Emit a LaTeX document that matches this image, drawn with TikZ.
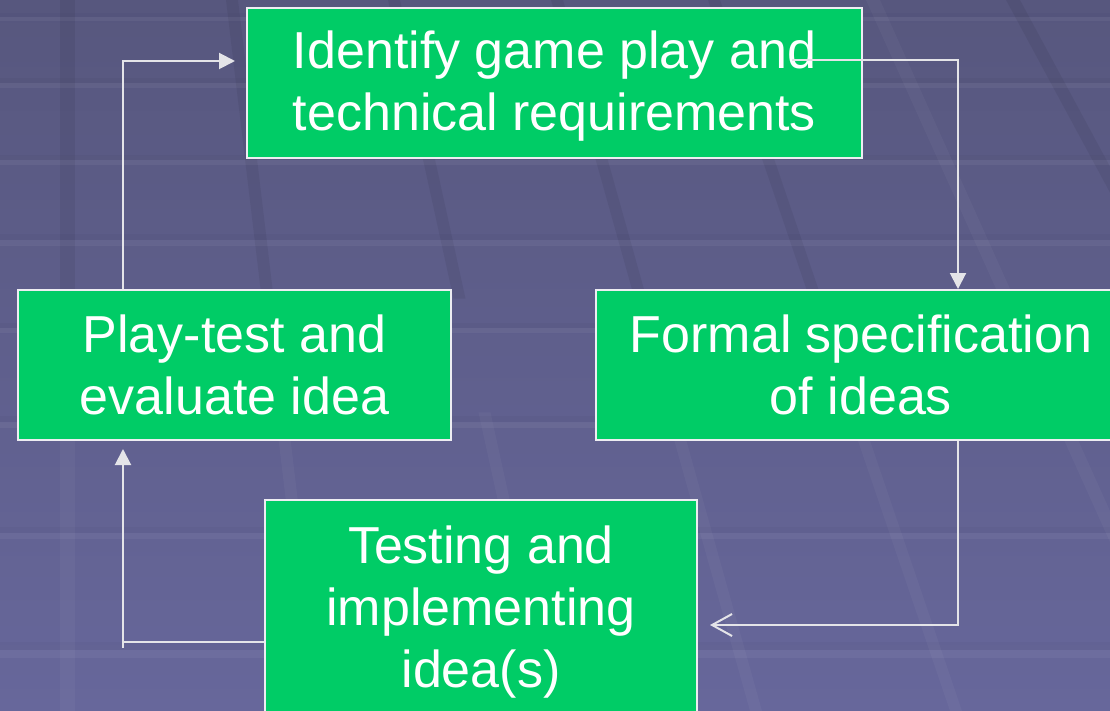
\documentclass[tikz,border=0pt]{standalone}
\usepackage{fontspec}
\setmainfont{Liberation Sans}
\usetikzlibrary{arrows.meta,calc}
\definecolor{bgtop}{HTML}{57577E}
\definecolor{bgbot}{HTML}{67679B}
\definecolor{boxgreen}{HTML}{00CC66}
\definecolor{boxedge}{HTML}{EDEDF2}
\definecolor{linegray}{HTML}{E4E4E8}
\begin{document}
\begin{tikzpicture}[x=1pt,y=-1pt,
  stagebox/.style={rectangle, draw=boxedge, line width=2pt, fill=boxgreen, inner sep=0pt},
  stagetext/.style={text=white, align=center, inner sep=0pt,
    font=\fontsize{52}{62}\selectfont},
  flow/.style={draw=linegray, line width=2pt},
  solidtip/.style={-{Triangle[length=16pt,width=16pt]}},
  opentip/.style={-{Straight Barb[length=20pt,width=22pt,line width=2pt]}}]

% backdrop
\useasboundingbox (0,0) rectangle (1110,711);
\fill[top color=bgtop, bottom color=bgbot] (0,0) rectangle (1110,711);

% slanted perspective bands: darker near the top, lighter near the bottom
\foreach \ta/\tb/\ba/\bb in {60/75/60/75, 226/238/311/323, 388/400/544/556,
                             551/563/750/762, 708/720/950/962, 1006/1020/1390/1404} {
  \fill[black, opacity=0.06]
    (\ta,0) -- (\tb,0) -- ($(\tb,0)!0.42!(\bb,711)$) -- ($(\ta,0)!0.42!(\ba,711)$) -- cycle;
  \fill[white, opacity=0.035]
    ($(\ta,0)!0.58!(\ba,711)$) -- ($(\tb,0)!0.58!(\bb,711)$) -- (\bb,711) -- (\ba,711) -- cycle;
}
\fill[white, opacity=0.035] (866,0) -- (880,0) -- (1200,711) -- (1186,711) -- cycle;

% horizontal bands
\foreach \hy/\hw in {17/4, 83/5, 160/5, 240/6, 328/5, 422/6, 533/6, 650/8} {
  \fill[black, opacity=0.025] (0,\hy-\hw) rectangle (1110,\hy);
  \fill[white, opacity=0.05] (0,\hy) rectangle (1110,\hy+\hw);
}

% stages
\node[stagebox, minimum width=615pt, minimum height=150pt] (ident) at (554.5,83) {};
\node[stagetext] (identtxt) at (554.5,86) {Identify game play and\\technical requirements};

\node[stagebox, minimum width=530pt, minimum height=150pt] (spec) at (861,365) {};
\node[stagetext] (spectxt) at (861,365) {Formal specification\\of ideas};

\node[stagebox, minimum width=432pt, minimum height=240pt] (impl) at (481,620) {};
\node[stagetext] (impltxt) at (481,612.5) {Testing and\\implementing\\idea(s)};

\node[stagebox, minimum width=433pt, minimum height=150pt] (play) at (234.5,365) {};
\node[stagetext] (playtxt) at (234.5,365) {Play-test and\\evaluate idea};

% routing guides
\coordinate (start) at (792,60);
\coordinate (xright) at (958,0);
\coordinate (xleft) at (123,0);
\coordinate (yjoin) at (0,625);
\coordinate (ybot) at (0,642);
\coordinate (ytop) at (0,61);

% cycle connectors
\draw[flow, solidtip] (start) -| (spec.north -| xright);
\draw[flow, opentip] (spec.south -| xright) |- ([xshift=12pt]impl.east |- yjoin);
\draw[flow, solidtip, shorten >=8pt] (impl.west |- ybot) -| (play.south -| xleft);
\draw[flow] (xleft |- ybot) -- ++(0,6);
\draw[flow, solidtip] (play.north -| xleft) |- ([xshift=-11pt]ident.west |- ytop);
\end{tikzpicture}
\end{document}
